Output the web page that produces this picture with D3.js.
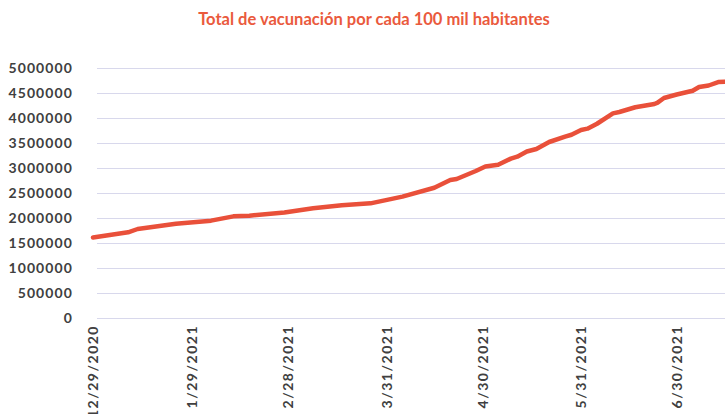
<!DOCTYPE html>
<html><head><meta charset="utf-8">
<script src="https://cdn.jsdelivr.net/npm/d3@7"></script>
<style>
body{margin:0;background:#fff}
svg{display:block}
text{font-family:Lato,"Open Sans",sans-serif}
</style></head>
<body><svg id="c" width="725" height="414"></svg>
<script>
const title = "Total de vacunación por cada 100 mil habitantes";
const dates = ["12/29/2020","1/9/2021","1/12/2021","1/24/2021","2/4/2021","2/11/2021","2/16/2021","2/27/2021",
  "3/8/2021","3/17/2021","3/26/2021","4/5/2021","4/15/2021","4/20/2021","4/22/2021","4/28/2021",
  "5/1/2021","5/5/2021","5/9/2021","5/11/2021","5/14/2021","5/17/2021","5/21/2021","5/26/2021","5/28/2021","5/31/2021",
  "6/2/2021","6/5/2021","6/10/2021","6/12/2021","6/17/2021","6/23/2021","6/24/2021","6/26/2021","6/30/2021",
  "7/5/2021","7/7/2021","7/10/2021","7/13/2021","7/15/2021"];
const values = [1610000,1713000,1780000,1887000,1947000,2033000,2047000,2110000,
  2193000,2253000,2293000,2427000,2605000,2760000,2780000,2940000,
  3030000,3065000,3187000,3227000,3330000,3380000,3520000,3627000,3665000,3760000,
  3787000,3885000,4093000,4120000,4215000,4280000,4307000,4400000,4470000,
  4545000,4620000,4650000,4718000,4727000];
const yTicks = [0,500000,1000000,1500000,2000000,2500000,3000000,3500000,4000000,4500000,5000000];
const xTickLabels = ["12/29/2020","1/29/2021","2/28/2021","3/31/2021","4/30/2021","5/31/2021","6/30/2021"];
const xDomain = ["12/29/2020","7/15/2021"];

const parse = d3.timeParse("%m/%d/%Y");
const svg = d3.select("#c");
const plotLeft = 97, plotRight = 725, plotTop = 68, plotBottom = 318;

const x = d3.scaleTime().domain(xDomain.map(parse)).range([93, 724.6]);
const y = d3.scaleLinear().domain([0, 5000000]).range([plotBottom, plotTop]);

// title
const t = svg.append("text").attr("x", 374).attr("y", 25).attr("text-anchor","middle")
  .attr("fill","#ea5a3d").attr("font-weight","bold").attr("font-size",15).text(title);
const tw = t.node().getComputedTextLength();
t.attr("font-size", 15 * 352 / tw);

// y axis with gridlines
const ya = svg.append("g").attr("transform", `translate(${plotLeft},0)`)
  .call(d3.axisLeft(y).tickValues(yTicks).tickFormat(d3.format("d"))
    .tickSizeInner(-(plotRight - plotLeft)).tickSizeOuter(0).tickPadding(24));
ya.select(".domain").remove();
ya.selectAll(".tick line").attr("stroke","#d8d8ec").attr("stroke-width",1.2);
ya.selectAll(".tick text").attr("fill","#404040").attr("font-weight","bold")
  .attr("font-size",14).attr("letter-spacing","1.1px").style("font-family","Lato,'Open Sans',sans-serif");

// x axis
const xa = svg.append("g").attr("transform", `translate(0,${plotBottom})`)
  .call(d3.axisBottom(x).tickValues(xTickLabels.map(parse)).tickFormat((d,i)=>xTickLabels[i])
    .tickSize(0));
xa.select(".domain").remove();
xa.selectAll(".tick text").attr("fill","#404040").attr("font-weight","bold")
  .attr("font-size",14).attr("letter-spacing","1.5px").style("font-family","Lato,'Open Sans',sans-serif")
  .attr("text-anchor","end").attr("x",-7).attr("y",0).attr("dy","0.35em")
  .attr("transform","rotate(-90)");

// line
const data = dates.map((d,i)=>({d:parse(d), v:values[i]}));
svg.append("path").datum(data)
  .attr("fill","none").attr("stroke","#e9503a").attr("stroke-width",4.5)
  .attr("stroke-linejoin","round").attr("stroke-linecap","round")
  .attr("d", d3.line().x(p=>x(p.d)).y(p=>y(p.v)));
</script></body></html>
